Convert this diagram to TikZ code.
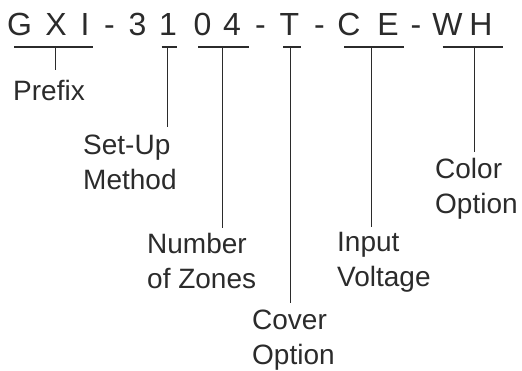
\documentclass[tikz,border=0pt]{standalone}
\usepackage{fontspec}
\setmainfont{Liberation Sans}
\definecolor{ink}{HTML}{2B2B2B}
\begin{document}
\begin{tikzpicture}[x=1pt,y=-1pt,
  ch/.style={inner sep=0pt,anchor=base,text=ink,font=\fontsize{32}{38}\selectfont},
  lbl/.style={inner sep=0pt,anchor=north west,align=left,text=ink,font=\fontsize{28}{35}\selectfont},
  uline/.style={draw=ink,line width=2.4pt},
  conn/.style={draw=ink,line width=1pt}]
\useasboundingbox (0,0) rectangle (522,371);
% title characters
\node[ch] (cG) at (19.5,36) {G};
\node[ch] (cX) at (56,36) {X};
\node[ch] (cI) at (85,36) {I};
\node[ch] (d1) at (109.5,36) {-};
\node[ch] (c3) at (137.5,36) {3};
\node[ch] (c1) at (168,36) {1};
\node[ch] (c0) at (202.5,36) {0};
\node[ch] (c4) at (232,36) {4};
\node[ch] (d2) at (260.5,36) {-};
\node[ch] (cT) at (289.5,36) {T};
\node[ch] (d3) at (319.5,36) {-};
\node[ch] (cC) at (349,36) {C};
\node[ch] (cE) at (388,36) {E};
\node[ch] (d4) at (416,36) {-};
\node[ch] (cW) at (447.5,36) {W};
\node[ch] (cH) at (481,36) {H};
% underlines
\draw[uline] (14,47) -- (93,47);
\draw[uline] (161.7,47) -- (177.3,47);
\draw[uline] (198,47) -- (249,47);
\draw[uline] (283,47) -- (301,47);
\draw[uline] (344,47) -- (404,47);
\draw[uline] (442.7,47) -- (502.7,47);
% connector top points
\coordinate (tPre) at (55,47);
\coordinate (tSet) at (167.3,47);
\coordinate (tNum) at (222.7,47);
\coordinate (tCov) at (290,47);
\coordinate (tInp) at (371.7,47);
\coordinate (tCol) at (474.3,47);
% connector bottom points
\coordinate (bPre) at (55,70);
\coordinate (bSet) at (167.3,127);
\coordinate (bNum) at (222.7,228);
\coordinate (bCov) at (290,303);
\coordinate (bInp) at (371.7,227);
\coordinate (bCol) at (474.3,152);
% labels
\node[lbl] (prefix) at (13,80) {Prefix};
\node[lbl] (setup) at (83,135) {Set-Up\\Method};
\node[lbl] (number) at (147,233) {Number\\of Zones};
\node[lbl] (cover) at (252,310) {Cover\\Option};
\node[lbl] (input) at (337,232) {Input\\Voltage};
\node[lbl] (color) at (435,158) {Color\\Option};
% connectors
\draw[conn] (tPre) -- (bPre);
\draw[conn] (tSet) -- (bSet);
\draw[conn] (tNum) -- (bNum);
\draw[conn] (tCov) -- (bCov);
\draw[conn] (tInp) -- (bInp);
\draw[conn] (tCol) -- (bCol);
\end{tikzpicture}
\end{document}
